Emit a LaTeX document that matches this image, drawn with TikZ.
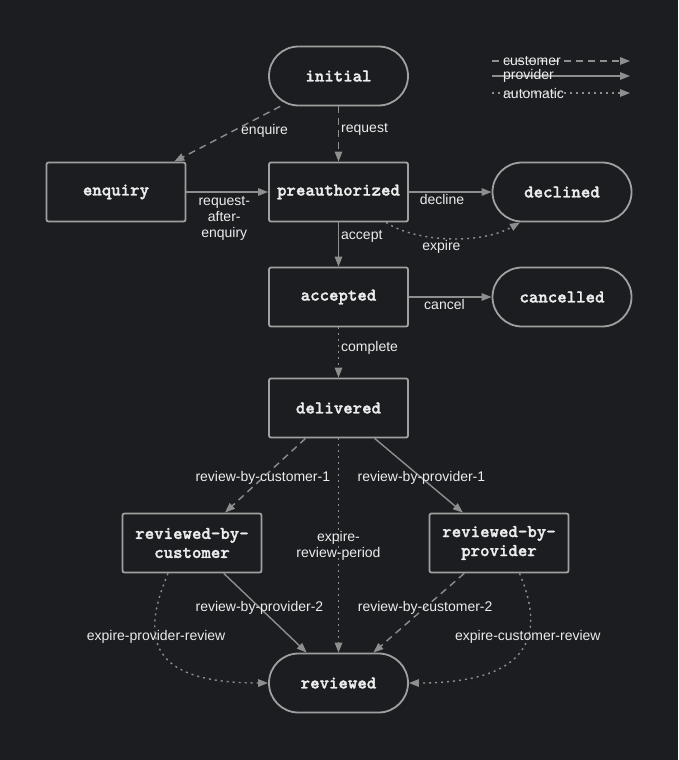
\documentclass[tikz,border=0pt]{standalone}
\usepackage{fontspec}
\setmainfont{Liberation Sans}
\newfontfamily\statefont{lmmonolt10-bold.otf}[FakeBold=1.6]
\usetikzlibrary{calc}
\usetikzlibrary{arrows.meta}
\usepackage{xcolor}
\definecolor{bgdark}{RGB}{27,29,32}
\definecolor{edgegray}{RGB}{142,142,142}
\definecolor{boxgray}{RGB}{160,160,160}
\definecolor{txtwhite}{RGB}{236,236,236}

\begin{document}
\begin{tikzpicture}[x=1pt, y=-1pt, >={Triangle[length=10pt, width=7.5pt]},
 state/.style={draw=boxgray, line width=1.8pt, fill=bgdark, text=txtwhite, rounded corners=2pt,
   minimum width=139pt, minimum height=59pt, inner sep=0pt, align=center,
   font=\fontsize{18}{19}\statefont},
 endstate/.style={state, rounded corners=29.5pt},
 trans/.style={draw=edgegray, line width=1.4pt, ->},
 bycustomer/.style={trans, dash pattern=on 7pt off 5pt},
 byprovider/.style={trans},
 automatic/.style={trans, dash pattern=on 2pt off 4pt},
 lbl/.style={text=txtwhite, inner sep=2pt, align=center, font=\fontsize{14}{16}\selectfont}]
\fill[bgdark] (0,0) rectangle (678,760);
\useasboundingbox (0,0) rectangle (678,760);

% states
\node[endstate] (initial) at (338.5,76) {initial};
\node[state] (enquiry) at (116,192) {enquiry};
\node[state] (preauth) at (338.5,192) {preauthorized};
\node[endstate] (declined) at (562,192) {declined};
\node[state] (accepted) at (338.5,297) {accepted};
\node[endstate] (cancelled) at (562,297) {cancelled};
\node[state] (delivered) at (338.5,408) {delivered};
\node[state] (revcust) at (192,543) {reviewed-by-\\customer};
\node[state] (revprov) at (499,543) {reviewed-by-\\provider};
\node[endstate] (reviewed) at (338.5,683) {reviewed};

% transitions
\draw[bycustomer] (initial) -- node[lbl, pos=.45, anchor=west, xshift=6pt]{enquire} (enquiry);
\draw[bycustomer] (initial) -- node[lbl, pos=.41, anchor=west]{request} (preauth);
\draw[byprovider] (enquiry) -- node[lbl, below, xshift=-3pt, yshift=-2pt]{request-\\after-\\enquiry} (preauth);
\draw[byprovider] (preauth) -- node[lbl, pos=.4, below]{decline} (declined);
\draw[automatic] ([xshift=47.5pt]preauth.south) .. controls (415,242) and (480,245) .. node[lbl, pos=.45, below]{expire} ([xshift=-42pt]declined.south);
\draw[byprovider] (preauth) -- node[lbl, pos=.31, anchor=west]{accept} (accepted);
\draw[byprovider] (accepted) -- node[lbl, pos=.43, below]{cancel} (cancelled);
\draw[automatic] (accepted) -- node[lbl, pos=.41, anchor=west]{complete} (delivered);
\draw[bycustomer] (delivered) -- node[lbl, pos=.53]{review-by-customer-1} (revcust);
\draw[byprovider] (delivered) -- node[lbl, pos=.53]{review-by-provider-1} (revprov);
\draw[automatic] (delivered) -- node[lbl]{expire-\\review-period} (reviewed);
\draw[byprovider] (revcust) -- node[lbl, pos=.43]{review-by-provider-2} (reviewed);
\draw[bycustomer] (revprov) -- node[lbl, pos=.43]{review-by-customer-2} (reviewed);
\draw[automatic] ([xshift=-24pt]revcust.south) .. controls (140,640) and (150,683) .. node[lbl, pos=.37]{expire-provider-review} (reviewed.west);
\draw[automatic] ([xshift=20.5pt]revprov.south) .. controls (548,640) and (525,683) .. node[lbl, pos=.37]{expire-customer-review} (reviewed.east);

% legend
\foreach \sty/\txt/\yy in {bycustomer/customer/61, byprovider/provider/76, automatic/automatic/93} {
 \coordinate (\txt-from) at (492,\yy);
 \coordinate (\txt-to) at (630,\yy);
 \draw[\sty] (\txt-from) -- (\txt-to);
 \node[lbl, anchor=west] (\txt-key) at (501,\yy) {\txt};
}
\end{tikzpicture}
\end{document}
